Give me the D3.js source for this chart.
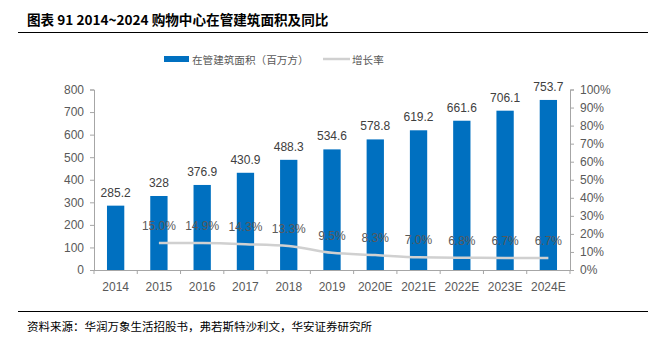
<!doctype html>
<html>
<head>
<meta charset="utf-8">
<style>
  body { margin: 0; background: #fff; }
  text { font-family: "Liberation Sans", Arial, "Noto Sans CJK SC", sans-serif; }
  .cjk { font-family: "Noto Sans CJK SC", sans-serif; }
</style>
<script src="https://cdnjs.cloudflare.com/ajax/libs/d3/7.8.5/d3.min.js"></script>
</head>
<body>
<div id="chart"></div>
<script>
  var width = 648, height = 339;

  // years, floor area (million sqm), growth rate (%)
  var years = ["2014", "2015", "2016", "2017", "2018", "2019", "2020E", "2021E", "2022E", "2023E", "2024E"];
  var area = [285.2, 328, 376.9, 430.9, 488.3, 534.6, 578.8, 619.2, 661.6, 706.1, 753.7];
  var growthYears = ["2015", "2016", "2017", "2018", "2019", "2020E", "2021E", "2022E", "2023E", "2024E"];
  var growth = [15.0, 14.9, 14.3, 13.3, 9.5, 8.3, 7.0, 6.8, 6.7, 6.7];
  var leftTicks = [0, 100, 200, 300, 400, 500, 600, 700, 800];
  var rightTicks = [0, 10, 20, 30, 40, 50, 60, 70, 80, 90, 100];

  // plot area edges
  var plotLeft = 94, plotRight = 570, plotTop = 89.5, plotBottom = 270;

  var svg = d3.select("#chart").append("svg")
      .attr("width", width)
      .attr("height", height);

  // header
  svg.append("text").attr("class", "cjk")
     .attr("x", 27).attr("y", 25)
     .attr("font-size", 13.6).attr("font-weight", "bold").attr("fill", "#000")
     .text("图表 91 2014~2024 购物中心在管建筑面积及同比");
  svg.append("line").attr("x1", 18).attr("x2", 648).attr("y1", 32.5).attr("y2", 32.5)
     .attr("stroke", "#000").attr("stroke-width", 1);

  var x = d3.scaleBand().domain(years).range([plotLeft, plotRight]).paddingInner(0.6).paddingOuter(0.3);
  var xb = d3.scaleBand().domain(years).range([plotLeft, plotRight]);
  var y = d3.scaleLinear().domain([0, 800]).range([plotBottom, plotTop]);
  var y2 = d3.scaleLinear().domain([0, 100]).range([plotBottom, plotTop]);

  // legend
  var lg = svg.append("g");
  lg.append("rect").attr("x", 164).attr("y", 56).attr("width", 25).attr("height", 6).attr("fill", "#0070C0");
  lg.append("text").attr("class", "cjk").attr("x", 192).attr("y", 63.5)
    .attr("font-size", 10.6).attr("fill", "#595959").text("在管建筑面积（百万方）");
  lg.append("line").attr("x1", 323).attr("x2", 350).attr("y1", 59).attr("y2", 59)
    .attr("stroke", "#d0d0d0").attr("stroke-width", 2.5);
  lg.append("text").attr("class", "cjk").attr("x", 352).attr("y", 63.5)
    .attr("font-size", 10.6).attr("fill", "#595959").text("增长率");

  // bars
  svg.selectAll(".bar").data(area).enter().append("rect")
     .attr("class", "bar")
     .attr("x", function(d, i) { return x(years[i]); })
     .attr("y", function(d) { return y(d); })
     .attr("width", x.bandwidth())
     .attr("height", function(d) { return y(0) - y(d); })
     .attr("fill", "#0070C0");

  svg.selectAll(".barlabel").data(area).enter().append("text")
     .attr("class", "barlabel")
     .attr("x", function(d, i) { return x(years[i]) + x.bandwidth() / 2; })
     .attr("y", function(d) { return y(d) - 9; })
     .attr("text-anchor", "middle").attr("font-size", 12).attr("fill", "#404040")
     .text(function(d) { return d; });

  // left axis
  var axL = svg.append("g").attr("transform", "translate(" + plotLeft + ",0)")
     .call(d3.axisLeft(y).tickValues(leftTicks).tickSize(4).tickPadding(6));
  axL.select(".domain").attr("stroke", "#a6a6a6");
  axL.selectAll(".tick line").attr("stroke", "#a6a6a6");
  axL.selectAll("text").attr("font-size", 12).attr("fill", "#595959")
     .style("font-family", "'Liberation Sans', Arial, sans-serif");

  // right axis
  var axR = svg.append("g").attr("transform", "translate(" + plotRight + ",0)")
     .call(d3.axisRight(y2).tickValues(rightTicks).tickSize(4).tickPadding(6)
       .tickFormat(function(d) { return d + "%"; }));
  axR.select(".domain").attr("stroke", "#a6a6a6");
  axR.selectAll(".tick line").attr("stroke", "#a6a6a6");
  axR.selectAll("text").attr("font-size", 12).attr("fill", "#595959")
     .style("font-family", "'Liberation Sans', Arial, sans-serif");

  // bottom axis with ticks at category boundaries
  svg.append("line").attr("x1", plotLeft).attr("x2", plotRight)
     .attr("y1", plotBottom + 0.5).attr("y2", plotBottom + 0.5)
     .attr("stroke", "#a6a6a6");
  var bounds = years.map(function(d) { return xb(d); }).concat([plotRight]);
  svg.selectAll(".xtick").data(bounds).enter().append("line")
     .attr("x1", function(d) { return d; }).attr("x2", function(d) { return d; })
     .attr("y1", plotBottom).attr("y2", plotBottom + 4)
     .attr("stroke", "#a6a6a6");
  svg.selectAll(".xlabel").data(years).enter().append("text")
     .attr("x", function(d) { return xb(d) + xb.bandwidth() / 2; })
     .attr("y", 291)
     .attr("text-anchor", "middle").attr("font-size", 12).attr("fill", "#595959")
     .text(function(d) { return d; });

  // growth line
  var line = d3.line()
     .x(function(d, i) { return xb(growthYears[i]) + xb.bandwidth() / 2; })
     .y(function(d) { return y2(d); })
     .curve(d3.curveMonotoneX);
  svg.append("path").datum(growth)
     .attr("d", line).attr("fill", "none")
     .attr("stroke", "#d0d0d0").attr("stroke-width", 2.5);

  svg.selectAll(".glabel").data(growth).enter().append("text")
     .attr("x", function(d, i) { return xb(growthYears[i]) + xb.bandwidth() / 2; })
     .attr("y", function(d) { return y2(d) - 13; })
     .attr("text-anchor", "middle").attr("font-size", 12).attr("fill", "#595959")
     .text(function(d) { return d.toFixed(1) + "%"; });

  // source note
  svg.append("line").attr("x1", 18).attr("x2", 648).attr("y1", 311.5).attr("y2", 311.5)
     .attr("stroke", "#000").attr("stroke-width", 1);
  svg.append("text").attr("class", "cjk")
     .attr("x", 27).attr("y", 331)
     .attr("font-size", 11.5).attr("fill", "#000")
     .text("资料来源：华润万象生活招股书，弗若斯特沙利文，华安证券研究所");
</script>
</body>
</html>
